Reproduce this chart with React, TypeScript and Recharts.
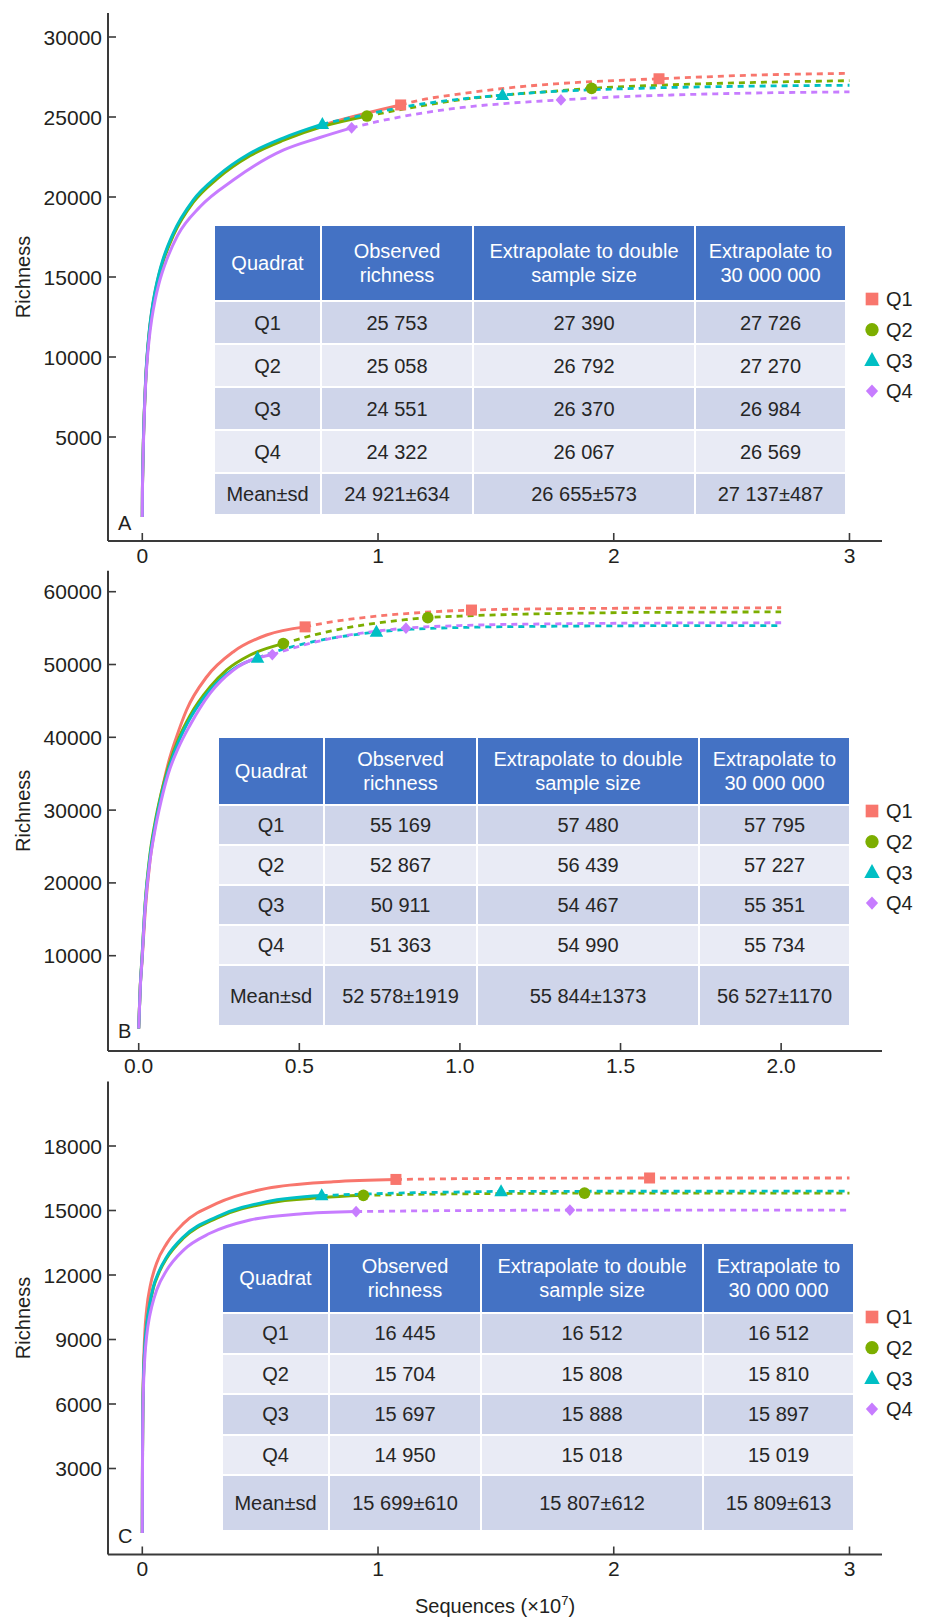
import React from 'react';
import { ComposedChart, Line, Scatter, XAxis, YAxis } from 'recharts';

const FONT = '"Liberation Sans", Arial, sans-serif';
const TEXT = '#231F20';
const AXIS = '#3A3A3A';

const QUADRATS = ['Q1', 'Q2', 'Q3', 'Q4'];
const COLORS = ['#F8766D', '#7CAE00', '#00BFC4', '#C77CFF'];
const SHAPES = ['square', 'circle', 'triangle', 'diamond'];
const DRAW_ORDER = [0, 1, 2, 3];

// ---------- Panel A (x in 10^7 sequences) ----------
const A_Q1_RARE = [[0, 0], [0.0005, 1480], [0.002, 2980], [0.005, 4960], [0.01, 7120], [0.015, 8780], [0.02, 9960], [0.03, 11630], [0.04, 12810], [0.055, 14110], [0.07, 15100], [0.087, 15980], [0.131, 17650], [0.216, 19730], [0.316, 21200], [0.457, 22660], [0.6, 23630], [0.764, 24480], [0.953, 25250], [1.096, 25753]];
const A_Q2_RARE = [[0, 0], [0.0005, 1450], [0.002, 2950], [0.005, 4920], [0.01, 7070], [0.015, 8720], [0.02, 9890], [0.03, 11560], [0.04, 12740], [0.055, 14040], [0.07, 15030], [0.087, 15910], [0.131, 17580], [0.216, 19660], [0.316, 21120], [0.457, 22580], [0.6, 23550], [0.764, 24400], [0.953, 25058]];
const A_Q3_RARE = [[0, 0], [0.0005, 1500], [0.002, 3000], [0.005, 5000], [0.01, 7190], [0.015, 8850], [0.02, 10030], [0.03, 11700], [0.04, 12880], [0.055, 14180], [0.07, 15170], [0.087, 16060], [0.131, 17730], [0.216, 19810], [0.316, 21270], [0.457, 22730], [0.6, 23700], [0.764, 24551]];
const A_Q4_RARE = [[0, 0], [0.0005, 1400], [0.002, 2800], [0.005, 4700], [0.01, 6970], [0.015, 8550], [0.02, 9670], [0.03, 11250], [0.04, 12370], [0.055, 13610], [0.07, 14560], [0.085, 15310], [0.103, 16060], [0.15, 17600], [0.245, 19390], [0.386, 21060], [0.6, 22940], [0.75, 23700], [0.888, 24322]];
const A_Q1_EXT = [[1.096, 25753], [1.181, 26060], [1.35, 26450], [1.535, 26790], [1.75, 27070], [1.904, 27210], [2.192, 27390], [2.6, 27620], [3.0, 27726]];
const A_Q2_EXT = [[0.953, 25058], [1.181, 25690], [1.35, 26080], [1.535, 26375], [1.75, 26620], [1.906, 26792], [2.2, 26990], [2.6, 27160], [3.0, 27270]];
const A_Q3_EXT = [[0.764, 24551], [0.95, 25160], [1.181, 25800], [1.35, 26120], [1.528, 26370], [1.75, 26600], [1.907, 26700], [2.2, 26830], [2.6, 26930], [3.0, 26984]];
const A_Q4_EXT = [[0.888, 24322], [1.0, 24720], [1.181, 25230], [1.35, 25580], [1.535, 25840], [1.776, 26067], [2.0, 26250], [2.245, 26375], [2.6, 26500], [3.0, 26569]];
const A_Q1_MARKS = [[1.096, 25753], [2.192, 27390]];
const A_Q2_MARKS = [[0.953, 25058], [1.906, 26792]];
const A_Q3_MARKS = [[0.764, 24551], [1.528, 26370]];
const A_Q4_MARKS = [[0.888, 24322], [1.776, 26067]];
const A_X_TICKS = [0, 1, 2, 3];
const A_Y_TICKS = [5000, 10000, 15000, 20000, 25000, 30000];
const A_TABLE = [
  ['Q1', '25 753', '27 390', '27 726'],
  ['Q2', '25 058', '26 792', '27 270'],
  ['Q3', '24 551', '26 370', '26 984'],
  ['Q4', '24 322', '26 067', '26 569'],
  ['Mean±sd', '24 921±634', '26 655±573', '27 137±487'],
];

// ---------- Panel B ----------
const B_Q1_RARE = [[0, 0], [0.002, 2600], [0.005, 6000], [0.01, 9000], [0.02, 16000], [0.035, 23000], [0.05, 27500], [0.07, 32200], [0.092, 36430], [0.118, 40080], [0.149, 43750], [0.212, 48320], [0.295, 51760], [0.398, 54050], [0.518, 55169]];
const B_Q2_RARE = [[0, 0], [0.002, 2500], [0.005, 5900], [0.01, 9600], [0.02, 17200], [0.035, 23900], [0.05, 28100], [0.07, 32300], [0.09, 35600], [0.125, 39900], [0.16, 43000], [0.222, 46900], [0.274, 49250], [0.347, 51300], [0.45, 52867]];
const B_Q3_RARE = [[0, 0], [0.002, 2450], [0.005, 5850], [0.01, 9500], [0.02, 17000], [0.035, 23600], [0.05, 27700], [0.07, 31900], [0.09, 35200], [0.125, 39500], [0.16, 42600], [0.222, 46500], [0.295, 49400], [0.37, 50911]];
const B_Q4_RARE = [[0, 0], [0.002, 2400], [0.005, 5700], [0.01, 9200], [0.02, 16500], [0.035, 23000], [0.05, 27100], [0.07, 31300], [0.092, 35000], [0.123, 38500], [0.16, 41690], [0.222, 46040], [0.295, 49250], [0.416, 51363]];
const B_Q1_EXT = [[0.518, 55169], [0.6, 55850], [0.7, 56450], [0.85, 57050], [1.036, 57480], [1.3, 57660], [1.6, 57750], [2.0, 57795]];
const B_Q2_EXT = [[0.45, 52867], [0.55, 54100], [0.65, 55050], [0.75, 55750], [0.83, 56150], [0.9, 56439], [1.0, 56650], [1.2, 56920], [1.5, 57120], [1.75, 57190], [2.0, 57227]];
const B_Q3_EXT = [[0.37, 50911], [0.45, 52100], [0.55, 53200], [0.65, 53950], [0.74, 54467], [0.85, 54850], [1.0, 55080], [1.3, 55260], [1.6, 55330], [2.0, 55351]];
const B_Q4_EXT = [[0.416, 51363], [0.5, 52500], [0.6, 53600], [0.7, 54350], [0.832, 54990], [1.0, 55350], [1.3, 55590], [1.6, 55690], [2.0, 55734]];
const B_Q1_MARKS = [[0.518, 55169], [1.036, 57480]];
const B_Q2_MARKS = [[0.45, 52867], [0.9, 56439]];
const B_Q3_MARKS = [[0.37, 50911], [0.74, 54467]];
const B_Q4_MARKS = [[0.416, 51363], [0.832, 54990]];
const B_X_TICKS = [0, 0.5, 1, 1.5, 2];
const B_Y_TICKS = [10000, 20000, 30000, 40000, 50000, 60000];
const B_TABLE = [
  ['Q1', '55 169', '57 480', '57 795'],
  ['Q2', '52 867', '56 439', '57 227'],
  ['Q3', '50 911', '54 467', '55 351'],
  ['Q4', '51 363', '54 990', '55 734'],
  ['Mean±sd', '52 578±1919', '55 844±1373', '56 527±1170'],
];

// ---------- Panel C ----------
const C_Q1_RARE = [[0, 0], [0.0005, 2500], [0.001, 4000], [0.002, 5600], [0.005, 7600], [0.01, 9150], [0.019, 10450], [0.033, 11450], [0.061, 12560], [0.104, 13470], [0.175, 14400], [0.316, 15330], [0.528, 16030], [0.81, 16340], [1.076, 16445]];
const C_Q2_RARE = [[0, 0], [0.0005, 2250], [0.001, 3750], [0.002, 5250], [0.005, 7150], [0.01, 8500], [0.02, 9760], [0.03, 10500], [0.047, 11400], [0.07, 12090], [0.104, 12790], [0.175, 13720], [0.316, 14650], [0.528, 15340], [0.761, 15600], [0.938, 15704]];
const C_Q3_RARE = [[0, 0], [0.0005, 2300], [0.001, 3800], [0.002, 5300], [0.005, 7200], [0.01, 8550], [0.02, 9820], [0.03, 10560], [0.047, 11460], [0.07, 12150], [0.104, 12850], [0.175, 13780], [0.316, 14710], [0.528, 15410], [0.761, 15697]];
const C_Q4_RARE = [[0, 0], [0.0005, 2100], [0.001, 3500], [0.002, 5000], [0.005, 6800], [0.01, 8050], [0.02, 9300], [0.03, 10020], [0.04, 10530], [0.061, 11300], [0.104, 12230], [0.175, 13160], [0.287, 13940], [0.457, 14560], [0.669, 14840], [0.907, 14950]];
const C_Q1_EXT = [[1.076, 16445], [1.3, 16475], [1.6, 16498], [1.9, 16508], [2.152, 16512], [2.6, 16512], [3.0, 16512]];
const C_Q2_EXT = [[0.938, 15704], [1.15, 15750], [1.4, 15780], [1.65, 15798], [1.876, 15808], [2.4, 15810], [3.0, 15810]];
const C_Q3_EXT = [[0.761, 15697], [0.95, 15770], [1.15, 15825], [1.35, 15862], [1.522, 15888], [2.0, 15895], [3.0, 15897]];
const C_Q4_EXT = [[0.907, 14950], [1.15, 14980], [1.45, 15003], [1.814, 15018], [2.4, 15019], [3.0, 15019]];
const C_Q1_MARKS = [[1.076, 16445], [2.152, 16512]];
const C_Q2_MARKS = [[0.938, 15704], [1.876, 15808]];
const C_Q3_MARKS = [[0.761, 15697], [1.522, 15888]];
const C_Q4_MARKS = [[0.907, 14950], [1.814, 15018]];
const C_X_TICKS = [0, 1, 2, 3];
const C_Y_TICKS = [3000, 6000, 9000, 12000, 15000, 18000];
const C_TABLE = [
  ['Q1', '16 445', '16 512', '16 512'],
  ['Q2', '15 704', '15 808', '15 810'],
  ['Q3', '15 697', '15 888', '15 897'],
  ['Q4', '14 950', '15 018', '15 019'],
  ['Mean±sd', '15 699±610', '15 807±612', '15 809±613'],
];

const TABLE_HEAD = ['Quadrat', 'Observed\nrichness', 'Extrapolate to double\nsample size', 'Extrapolate to\n30 000 000'];
const ROW_COLORS = ['#CFD5EA', '#E9EBF5', '#CFD5EA', '#E9EBF5', '#CFD5EA'];
const HEAD_COLOR = '#4472C4';

// ---------- layout ----------
const W = 925;
const PLOT_LEFT = 108;
const PLOT_RIGHT = 882;

const toData = (pts: number[][]) => pts.map(([x, y]) => ({ x, y }));

function markerShape(shape: string, cx: number, cy: number, color: string, big = false) {
  const k = big ? 1.15 : 1;
  if (shape === 'square') {
    const s = 11 * k;
    return <rect x={cx - s / 2} y={cy - s / 2} width={s} height={s} fill={color} />;
  }
  if (shape === 'circle') {
    return <circle cx={cx} cy={cy} r={5.8 * k} fill={color} />;
  }
  if (shape === 'triangle') {
    const w = 13.5 * k, h = 12 * k;
    return <polygon points={`${cx},${cy - h * 0.6} ${cx - w / 2},${cy + h * 0.4} ${cx + w / 2},${cy + h * 0.4}`} fill={color} />;
  }
  const r = 5.3 * k;
  return <polygon points={`${cx},${cy - r * 1.1} ${cx + r},${cy} ${cx},${cy + r * 1.1} ${cx - r},${cy}`} fill={color} />;
}

const XTick = (props: any) => {
  const { x, y, payload, fmt } = props;
  return (
    <g>
      <line x1={x} x2={x} y1={y} y2={y - 8} stroke={AXIS} strokeWidth={1.6} />
      <text x={x} y={y + 21.8} textAnchor="middle" fontSize={21} fontFamily={FONT} fill={TEXT}>
        {fmt(payload.value)}
      </text>
    </g>
  );
};

const YTick = (props: any) => {
  const { x, y, payload } = props;
  return (
    <g>
      <line x1={x} x2={x + 8} y1={y} y2={y} stroke={AXIS} strokeWidth={1.6} />
      <text x={x - 6} y={y + 7.5} textAnchor="end" fontSize={21} fontFamily={FONT} fill={TEXT}>
        {payload.value}
      </text>
    </g>
  );
};

type Series = { rare: number[][]; ext: number[][]; marks: number[][] };

type PanelCfg = {
  top: number; height: number; plotTop: number; plotBottom: number;
  xDomain: [number, number]; yDomain: [number, number];
  xTicks: number[]; yTicks: number[]; xFmt: (v: number) => string;
  series: Series[];
};

function Panel({ cfg }: { cfg: PanelCfg }) {
  const { top, height, plotTop, plotBottom, xDomain, yDomain, xTicks, yTicks, xFmt, series } = cfg;
  const lines: any[] = [];
  DRAW_ORDER.forEach((i) => {
    const s = series[i];
    lines.push(
      <Line key={`r${i}`} data={toData(s.rare)} dataKey="y" type="monotone" stroke={COLORS[i]} strokeWidth={3}
        dot={false} activeDot={false} isAnimationActive={false} />
    );
    lines.push(
      <Line key={`e${i}`} data={toData(s.ext)} dataKey="y" type="monotone" stroke={COLORS[i]} strokeWidth={2.8}
        strokeDasharray="6 5" dot={false} activeDot={false} isAnimationActive={false} />
    );
  });
  const marks = DRAW_ORDER.map((i) => (
    <Scatter key={`m${i}`} data={toData(series[i].marks)} dataKey="y" isAnimationActive={false}
      shape={(p: any) => markerShape(SHAPES[i], p.cx, p.cy, COLORS[i])} />
  ));
  return (
    <div style={{ position: 'absolute', left: 0, top, width: W, height }}>
      <ComposedChart width={W} height={height}
        margin={{ top: plotTop - top, right: W - PLOT_RIGHT, bottom: 0, left: 0 }}>
        <XAxis type="number" dataKey="x" domain={xDomain} ticks={xTicks} interval={0} allowDataOverflow
          height={top + height - plotBottom} tickSize={0} tickMargin={0} tickLine={false}
          axisLine={{ stroke: AXIS, strokeWidth: 2 }}
          tick={(p: any) => <XTick {...p} fmt={xFmt} />} />
        <YAxis type="number" dataKey="y" domain={yDomain} ticks={yTicks} interval={0} allowDataOverflow
          width={PLOT_LEFT} tickSize={0} tickMargin={0} tickLine={false}
          axisLine={{ stroke: AXIS, strokeWidth: 2 }}
          tick={(p: any) => <YTick {...p} />} />
        {lines}
        {marks}
      </ComposedChart>
    </div>
  );
}

type TableCfg = { left: number; top: number; cols: number[]; headH: number; rowHs: number[]; rows: string[][] };

function DataTable({ cfg }: { cfg: TableCfg }) {
  const { left, top, cols, headH, rowHs, rows } = cfg;
  const xs: number[] = [0];
  cols.forEach((c) => xs.push(xs[xs.length - 1] + c));
  const ys: number[] = [0, headH];
  rowHs.forEach((h) => ys.push(ys[ys.length - 1] + h));
  const cells: any[] = [];
  const all = [TABLE_HEAD, ...rows];
  all.forEach((row, r) => {
    row.forEach((txt, c) => {
      const isHead = r === 0;
      cells.push(
        <div key={`${r}-${c}`} style={{
          position: 'absolute', left: xs[c] + 1, top: ys[r] + 1, width: cols[c] - 2, height: ys[r + 1] - ys[r] - 2,
          background: isHead ? HEAD_COLOR : ROW_COLORS[r - 1], color: isHead ? '#FFFFFF' : '#262626',
          display: 'flex', alignItems: 'center', justifyContent: 'center', textAlign: 'center',
          whiteSpace: 'pre-line', fontFamily: FONT, fontSize: 20, lineHeight: '24px',
        }}>{txt}</div>
      );
    });
  });
  return <div style={{ position: 'absolute', left, top, width: xs[xs.length - 1], height: ys[ys.length - 1] }}>{cells}</div>;
}

function LegendBox({ left, top, gap }: { left: number; top: number; gap: number }) {
  return (
    <svg style={{ position: 'absolute', left, top: top - 12 }} width={60} height={gap * 4 + 10}>
      {QUADRATS.map((q, i) => (
        <g key={q}>
          {markerShape(SHAPES[i], 8, 12 + i * gap, COLORS[i], true)}
          <text x={22} y={12 + i * gap + 7.2} fontSize={20} fontFamily={FONT} fill={TEXT}>{q}</text>
        </g>
      ))}
    </svg>
  );
}

const fmtInt = (v: number) => String(v);
const fmt1 = (v: number) => v.toFixed(1);

const PANELS: PanelCfg[] = [
  {
    top: 0, height: 575, plotTop: 13, plotBottom: 541, xDomain: [-0.1455, 3.138], yDomain: [-1500, 31500],
    xTicks: A_X_TICKS, yTicks: A_Y_TICKS, xFmt: fmtInt,
    series: [
      { rare: A_Q1_RARE, ext: A_Q1_EXT, marks: A_Q1_MARKS },
      { rare: A_Q2_RARE, ext: A_Q2_EXT, marks: A_Q2_MARKS },
      { rare: A_Q3_RARE, ext: A_Q3_EXT, marks: A_Q3_MARKS },
      { rare: A_Q4_RARE, ext: A_Q4_EXT, marks: A_Q4_MARKS },
    ],
  },
  {
    top: 560, height: 520, plotTop: 570.7, plotBottom: 1051, xDomain: [-0.0956, 2.314], yDomain: [-3090, 62885],
    xTicks: B_X_TICKS, yTicks: B_Y_TICKS, xFmt: fmt1,
    series: [
      { rare: B_Q1_RARE, ext: B_Q1_EXT, marks: B_Q1_MARKS },
      { rare: B_Q2_RARE, ext: B_Q2_EXT, marks: B_Q2_MARKS },
      { rare: B_Q3_RARE, ext: B_Q3_EXT, marks: B_Q3_MARKS },
      { rare: B_Q4_RARE, ext: B_Q4_EXT, marks: B_Q4_MARKS },
    ],
  },
  {
    top: 1070, height: 549, plotTop: 1081.5, plotBottom: 1554.5, xDomain: [-0.1455, 3.138], yDomain: [-1000, 21000],
    xTicks: C_X_TICKS, yTicks: C_Y_TICKS, xFmt: fmtInt,
    series: [
      { rare: C_Q1_RARE, ext: C_Q1_EXT, marks: C_Q1_MARKS },
      { rare: C_Q2_RARE, ext: C_Q2_EXT, marks: C_Q2_MARKS },
      { rare: C_Q3_RARE, ext: C_Q3_EXT, marks: C_Q3_MARKS },
      { rare: C_Q4_RARE, ext: C_Q4_EXT, marks: C_Q4_MARKS },
    ],
  },
];

const TABLES: TableCfg[] = [
  { left: 214, top: 225, cols: [107, 152, 222, 151], headH: 76, rowHs: [43, 43, 43, 43, 42], rows: A_TABLE },
  { left: 218, top: 737, cols: [106, 153, 222, 151], headH: 68, rowHs: [40, 40, 40, 40, 61], rows: B_TABLE },
  { left: 222, top: 1243, cols: [107, 152, 222, 151], headH: 70, rowHs: [40.5, 40.5, 40.5, 40.5, 56], rows: C_TABLE },
];

const LEGENDS = [
  { left: 864, top: 299, gap: 30.7 },
  { left: 864, top: 811, gap: 30.7 },
  { left: 864, top: 1317, gap: 30.7 },
];

const PANEL_LETTERS = [
  { t: 'A', y: 530 },
  { t: 'B', y: 1038 },
  { t: 'C', y: 1543 },
];

export default function App() {
  return (
    <div style={{ position: 'absolute', left: 0, top: 0, width: W, height: 1619, background: '#FFFFFF', overflow: 'hidden' }}>
      {PANELS.map((p, i) => <Panel key={i} cfg={p} />)}
      <svg style={{ position: 'absolute', left: 0, top: 0, pointerEvents: 'none' }} width={W} height={1619}>
        {PANELS.map((p, i) => {
          const cy = (p.plotTop + p.plotBottom) / 2;
          return (
            <text key={`yl${i}`} x={30} y={cy} transform={`rotate(-90 30 ${cy})`} textAnchor="middle"
              fontSize={20} fontFamily={FONT} fill={TEXT}>Richness</text>
          );
        })}
        {PANEL_LETTERS.map((l) => (
          <text key={l.t} x={118} y={l.y} fontSize={20} fontFamily={FONT} fill={TEXT}>{l.t}</text>
        ))}
        <text x={(PLOT_LEFT + PLOT_RIGHT) / 2} y={1613} textAnchor="middle" fontSize={20} fontFamily={FONT} fill={TEXT}>
          Sequences (×10<tspan dy={-8} fontSize={13}>7</tspan><tspan dy={8} fontSize={20}>)</tspan>
        </text>
      </svg>
      {TABLES.map((t, i) => <DataTable key={i} cfg={t} />)}
      {LEGENDS.map((l, i) => <LegendBox key={i} {...l} />)}
    </div>
  );
}
